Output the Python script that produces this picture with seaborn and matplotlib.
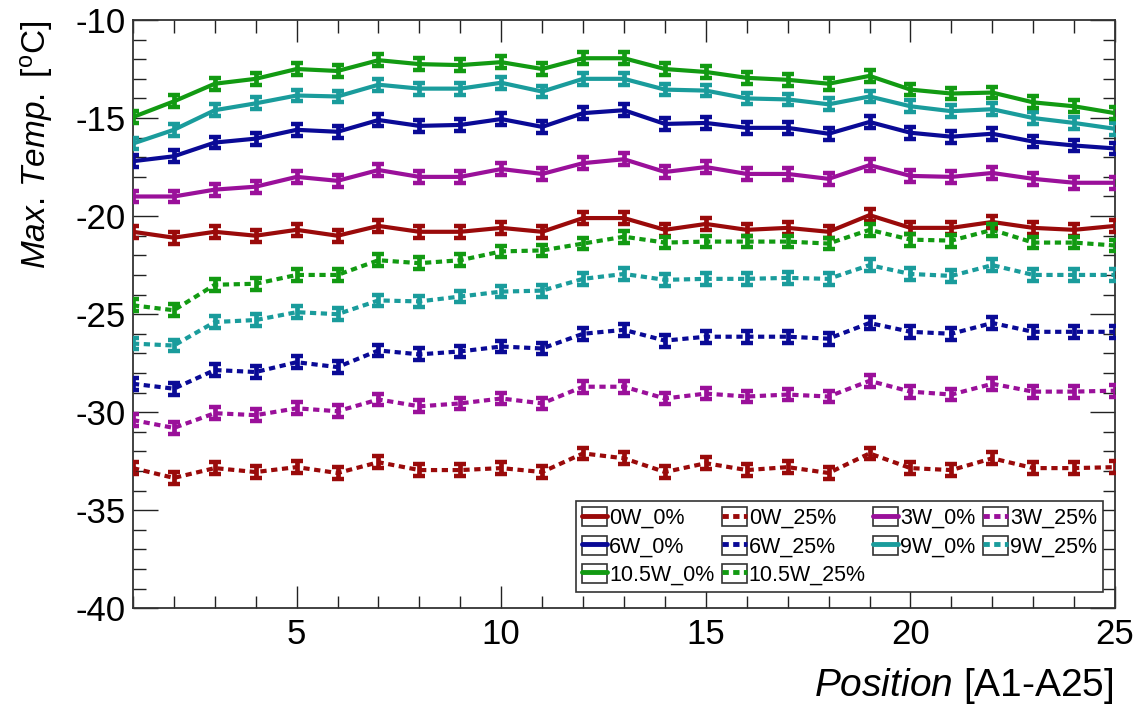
import numpy as np
import pandas as pd
import matplotlib
matplotlib.use("Agg")
import matplotlib.pyplot as plt
from matplotlib.lines import Line2D
from matplotlib.patches import Rectangle
from matplotlib.legend_handler import HandlerTuple
from matplotlib.ticker import MultipleLocator
import seaborn as sns

# ---------------- data ----------------
positions = list(range(1, 26))

t_0W_0 = [-20.8, -21.1, -20.8, -21.0, -20.7, -21.0, -20.5, -20.8, -20.8, -20.6, -20.8, -20.1, -20.1,
          -20.7, -20.4, -20.7, -20.6, -20.8, -19.95, -20.6, -20.6, -20.3, -20.6, -20.7, -20.5]
t_3W_0 = [-19.0, -19.0, -18.65, -18.5, -18.0, -18.2, -17.65, -18.0, -18.0, -17.6, -17.85, -17.3, -17.1,
          -17.75, -17.5, -17.85, -17.85, -18.1, -17.4, -17.95, -18.0, -17.8, -18.1, -18.3, -18.3]
t_6W_0 = [-17.2, -16.95, -16.25, -16.05, -15.6, -15.7, -15.1, -15.4, -15.35, -15.05, -15.45, -14.75, -14.6,
          -15.3, -15.25, -15.5, -15.5, -15.8, -15.2, -15.75, -15.95, -15.8, -16.2, -16.4, -16.55]
t_9W_0 = [-16.3, -15.6, -14.6, -14.25, -13.85, -13.9, -13.3, -13.5, -13.5, -13.2, -13.65, -13.0, -13.0,
          -13.55, -13.6, -14.0, -14.05, -14.3, -13.9, -14.4, -14.65, -14.55, -15.0, -15.25, -15.55]
t_105W_0 = [-14.95, -14.15, -13.25, -13.0, -12.5, -12.6, -12.05, -12.25, -12.3, -12.15, -12.5, -11.95, -11.95,
            -12.5, -12.65, -12.95, -13.05, -13.25, -12.85, -13.55, -13.75, -13.7, -14.2, -14.4, -14.75]

t_0W_25 = [-32.85, -33.35, -32.85, -33.05, -32.8, -33.1, -32.55, -32.95, -32.95, -32.85, -33.05, -32.1, -32.35,
           -33.05, -32.6, -32.95, -32.8, -33.1, -32.1, -32.85, -32.95, -32.35, -32.85, -32.85, -32.8]
t_3W_25 = [-30.4, -30.8, -30.05, -30.15, -29.8, -29.95, -29.35, -29.7, -29.55, -29.3, -29.55, -28.7, -28.7,
           -29.3, -29.05, -29.2, -29.1, -29.2, -28.4, -28.95, -29.1, -28.55, -28.95, -28.95, -28.9]
t_6W_25 = [-28.55, -28.8, -27.85, -27.95, -27.45, -27.7, -26.85, -27.05, -26.9, -26.65, -26.75, -26.0, -25.8,
           -26.35, -26.15, -26.15, -26.15, -26.25, -25.45, -25.9, -26.0, -25.45, -25.9, -25.9, -25.9]
t_9W_25 = [-26.5, -26.6, -25.4, -25.3, -24.9, -25.0, -24.3, -24.35, -24.1, -23.85, -23.8, -23.2, -22.95,
           -23.25, -23.2, -23.2, -23.15, -23.2, -22.5, -22.95, -23.05, -22.5, -23.0, -23.0, -23.0]
t_105W_25 = [-24.55, -24.8, -23.5, -23.45, -23.0, -23.0, -22.25, -22.4, -22.25, -21.8, -21.75, -21.4, -21.05,
             -21.35, -21.3, -21.3, -21.3, -21.4, -20.7, -21.2, -21.25, -20.7, -21.35, -21.35, -21.5]

err = 0.3  # symmetric error bar half-height

series_names = ["0W_0%", "0W_25%", "3W_0%", "3W_25%", "6W_0%", "6W_25%",
                "9W_0%", "9W_25%", "10.5W_0%", "10.5W_25%"]
series_values = [t_0W_0, t_0W_25, t_3W_0, t_3W_25, t_6W_0, t_6W_25,
                 t_9W_0, t_9W_25, t_105W_0, t_105W_25]

x_ticks = [5, 10, 15, 20, 25]
y_ticks = [-40, -35, -30, -25, -20, -15, -10]

# ---------------- styles ----------------
colors = {"0W": "#9a0a0a", "3W": "#9a109a", "6W": "#0a0a96", "9W": "#1a9c9c", "10.5W": "#129a12"}

def base(name):
    return name.split("_")[0]

palette = {n: colors[base(n)] for n in series_names}
dash_map = {n: ("" if n.endswith("_0%") else (1.5, 1.1)) for n in series_names}

rows = []
for name, vals in zip(series_names, series_values):
    for p, v in zip(positions, vals):
        rows.append({"pos": p, "temp": v, "series": name})
df = pd.DataFrame(rows)

sns.set_theme(style="ticks")
plt.rcParams["font.family"] = ["Liberation Sans", "DejaVu Sans"]
plt.rcParams["mathtext.fontset"] = "custom"
plt.rcParams["mathtext.rm"] = "Liberation Sans"
plt.rcParams["mathtext.it"] = "Liberation Sans:italic"
plt.rcParams["axes.unicode_minus"] = False
plt.rcParams["text.color"] = "black"
plt.rcParams["axes.labelcolor"] = "black"

fig = plt.figure(figsize=(11.46, 7.14), dpi=100)
ax = fig.add_axes([0.116, 0.148, 0.857, 0.824])

sns.lineplot(data=df, x="pos", y="temp", hue="series", style="series",
             palette=palette, dashes=dash_map, linewidth=3.0, legend=False,
             ax=ax, sort=False)

for name, vals in zip(series_names, series_values):
    ax.errorbar(positions, vals, yerr=err, fmt="none", ecolor=palette[name],
                elinewidth=3.4, capsize=4.0, capthick=3.2, zorder=3)

ax.set_xlim(1, 25)
ax.set_ylim(-40, -10)
ax.set_xticks(x_ticks)
ax.set_yticks(y_ticks)
ax.xaxis.set_minor_locator(MultipleLocator(1))
ax.yaxis.set_minor_locator(MultipleLocator(1))
ax.tick_params(which="both", direction="in", top=True, right=True, colors="#222222", labelcolor="black")
ax.tick_params(which="major", axis="y", length=18, width=1.0, labelsize=25, pad=5)
ax.tick_params(which="minor", axis="y", length=9, width=1.0)
ax.tick_params(which="major", axis="x", length=16, width=1.0, labelsize=25, pad=7)
ax.tick_params(which="minor", axis="x", length=9, width=1.0)
for s in ax.spines.values():
    s.set_color("#333333")
    s.set_linewidth(1.3)

ax.set_xlabel("")
ax.set_ylabel(r"$\mathit{Max.\,Temp.}$ [$^{\rm o}$C]", fontsize=24, loc="top", color="black")
ax.yaxis.set_label_coords(-0.079, 1.0)
fig.text(0.972, 0.025, r"$\mathit{Position}$ [A1-A25]", fontsize=28, ha="right", va="baseline",
         color="black")

# legend (row-major order in reference, matplotlib fills column-wise)
order = ["0W_0%", "6W_0%", "10.5W_0%", "0W_25%", "6W_25%", "10.5W_25%",
         "3W_0%", "9W_0%", "3W_25%", "9W_25%"]
handles = []
for n in order:
    ls = "-" if n.endswith("_0%") else (0, (1.3, 0.9))
    box = Rectangle((0, 0), 1, 1, facecolor="white", edgecolor="#333333", lw=1.2)
    ln = Line2D([0], [0], color=palette[n], lw=3.5, linestyle=ls)
    handles.append((box, ln))
leg = ax.legend(handles, order, ncol=4, loc="lower right", bbox_to_anchor=(0.988, 0.027),
                handler_map={tuple: HandlerTuple(ndivide=1, pad=0)},
                fontsize=15.5, frameon=True, fancybox=False, framealpha=1, edgecolor="#333333",
                handlelength=1.15, handleheight=1.0, handletextpad=0.1, columnspacing=0.35,
                labelspacing=0.3, borderpad=0.3, borderaxespad=0)
leg.get_frame().set_linewidth(1.2)

fig.savefig("out.png", dpi=100)
